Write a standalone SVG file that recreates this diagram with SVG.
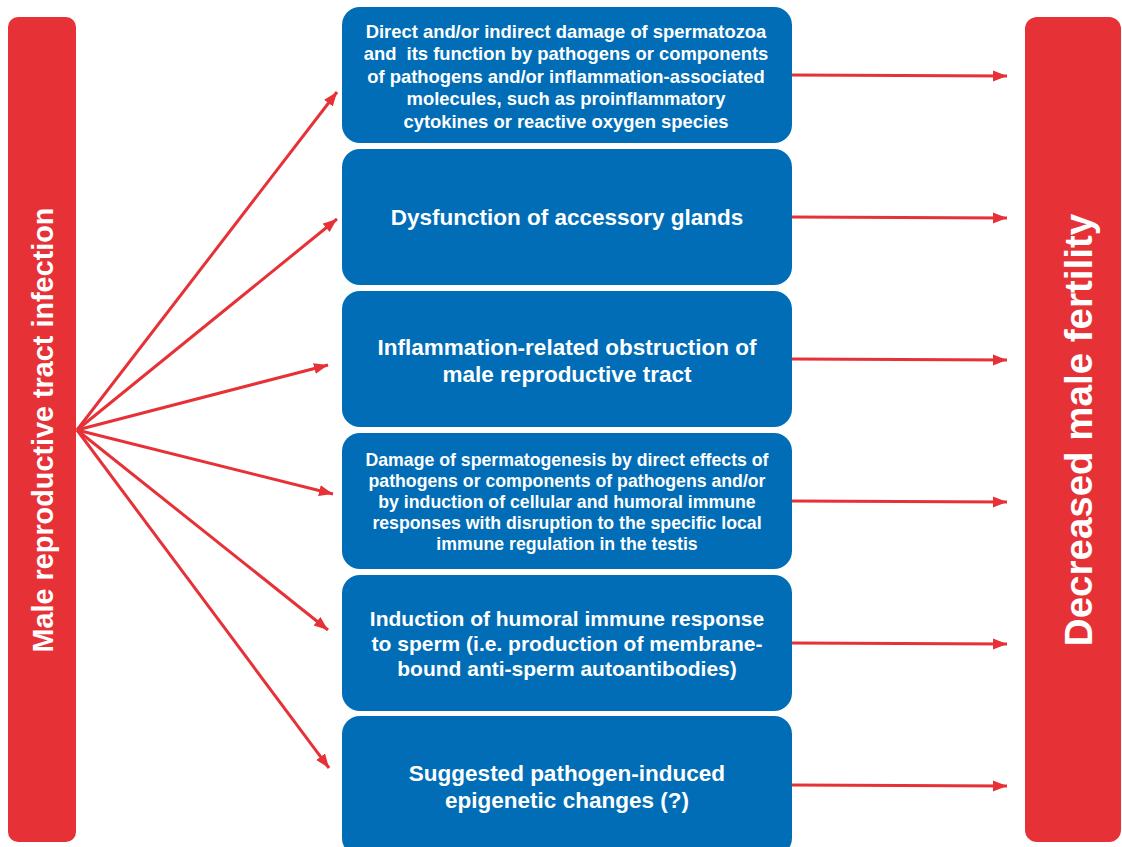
<svg xmlns="http://www.w3.org/2000/svg" width="1122" height="847" viewBox="0 0 1122 847">
<defs>
<style>
.bar{fill:#E63137}
.box{fill:#006DB6}
.t{font-family:"Liberation Sans",Arial,sans-serif;font-weight:bold;fill:#fff;text-anchor:middle}
.c{stroke:#E63137;stroke-width:3;fill:none;marker-end:url(#ah)}
</style>
<marker id="ah" markerUnits="userSpaceOnUse" markerWidth="16" markerHeight="12" refX="14" refY="5.5" orient="auto">
<path d="M0,0 L14,5.5 L0,11 z" fill="#E63137"/>
</marker>
</defs>
<rect width="1122" height="847" fill="#fff"/>
<g id="left">
<rect class="bar" x="8" y="17" width="68" height="825" rx="10"/>
<text class="t" font-size="28.8" transform="translate(52.5,430) rotate(-90)">Male reproductive tract infection</text>
</g>
<g id="right">
<rect class="bar" x="1025" y="17" width="96" height="825" rx="12"/>
<text class="t" font-size="38.5" transform="translate(1092,430) rotate(-90)">Decreased male fertility</text>
</g>
<g id="connectors">
<line class="c" x1="77" y1="430" x2="337" y2="92"/>
<line class="c" x1="77" y1="430" x2="337" y2="219"/>
<line class="c" x1="77" y1="430" x2="328" y2="365"/>
<line class="c" x1="77" y1="430" x2="333" y2="494"/>
<line class="c" x1="77" y1="430" x2="328" y2="630"/>
<line class="c" x1="77" y1="430" x2="329" y2="768"/>
<line class="c" x1="792" y1="75" x2="1007" y2="76"/>
<line class="c" x1="792" y1="217" x2="1007" y2="218"/>
<line class="c" x1="792" y1="359" x2="1007" y2="360"/>
<line class="c" x1="792" y1="501" x2="1007" y2="502"/>
<line class="c" x1="792" y1="643" x2="1007" y2="644"/>
<line class="c" x1="792" y1="785" x2="1007" y2="786"/>
</g>
<g id="box1">
<rect class="box" x="342" y="7" width="450" height="136" rx="18"/>
<text class="t" font-size="18.4" x="566" y="37.5">Direct and/or indirect damage of spermatozoa</text>
<text class="t" font-size="18.4" x="566" y="60" xml:space="preserve">and  its function by pathogens or components</text>
<text class="t" font-size="18.4" x="566" y="82.5">of pathogens and/or inflammation-associated</text>
<text class="t" font-size="18.4" x="566" y="105">molecules, such as proinflammatory</text>
<text class="t" font-size="18.4" x="566" y="127.5">cytokines or reactive oxygen species</text>
</g>
<g id="box2">
<rect class="box" x="342" y="149" width="450" height="136" rx="18"/>
<text class="t" font-size="22.5" x="567" y="225">Dysfunction of accessory glands</text>
</g>
<g id="box3">
<rect class="box" x="342" y="291" width="450" height="136" rx="18"/>
<text class="t" font-size="22.5" x="567" y="355">Inflammation-related obstruction of</text>
<text class="t" font-size="22.5" x="567" y="382">male reproductive tract</text>
</g>
<g id="box4">
<rect class="box" x="342" y="433" width="450" height="136" rx="18"/>
<text class="t" font-size="17.7" x="567" y="466">Damage of spermatogenesis by direct effects of</text>
<text class="t" font-size="17.7" x="567" y="487">pathogens or components of pathogens and/or</text>
<text class="t" font-size="17.7" x="567" y="508">by induction of cellular and humoral immune</text>
<text class="t" font-size="17.7" x="567" y="529">responses with disruption to the specific local</text>
<text class="t" font-size="17.7" x="567" y="550">immune regulation in the testis</text>
</g>
<g id="box5">
<rect class="box" x="342" y="575" width="450" height="136" rx="18"/>
<text class="t" font-size="21" x="567" y="626">Induction of humoral immune response</text>
<text class="t" font-size="21" x="567" y="651">to sperm (i.e. production of membrane-</text>
<text class="t" font-size="21" x="567" y="676">bound anti-sperm autoantibodies)</text>
</g>
<g id="box6">
<rect class="box" x="342" y="716" width="450" height="140" rx="18"/>
<text class="t" font-size="22.5" x="567" y="781">Suggested pathogen-induced</text>
<text class="t" font-size="22.5" x="567" y="808">epigenetic changes (?)</text>
</g>
</svg>
